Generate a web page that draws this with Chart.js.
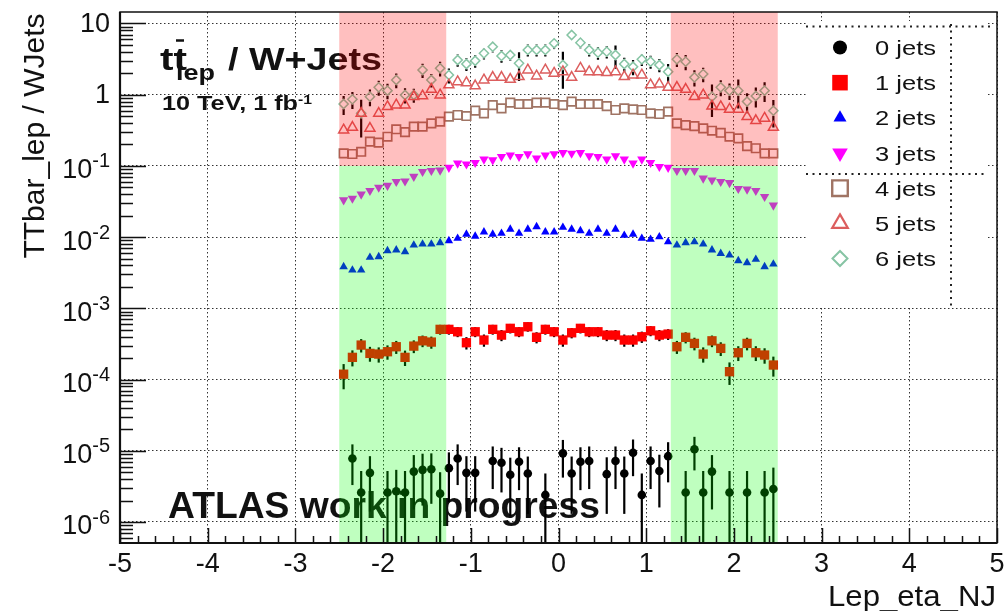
<!DOCTYPE html>
<html>
<head>
<meta charset="utf-8">
<title>TTbar_lep / WJets</title>
<script src="https://cdn.jsdelivr.net/npm/chart.js@4.4.0/dist/chart.umd.min.js"></script>
<style>
  html, body { margin: 0; padding: 0; background: #ffffff; }
  #wrap { width: 1007px; height: 611px; }
</style>
</head>
<body>
<div id="wrap"><canvas id="ratioChart" width="1007" height="611"></canvas></div>
<script>
// bin centres of Lep_eta (bin width 0.1)
const etaBins = [
  -2.45, -2.35, -2.25, -2.15, -2.05, -1.95, -1.85, -1.75, -1.65, -1.55,
  -1.45, -1.35, -1.25, -1.15, -1.05, -0.95, -0.85, -0.75, -0.65, -0.55,
  -0.45, -0.35, -0.25, -0.15, -0.05, 0.05, 0.15, 0.25, 0.35, 0.45,
  0.55, 0.65, 0.75, 0.85, 0.95, 1.05, 1.15, 1.25, 1.35, 1.45,
  1.55, 1.65, 1.75, 1.85, 1.95, 2.05, 2.15, 2.25, 2.35, 2.45
]

const seriesLabels = ["0 jets", "1 jets", "2 jets", "3 jets", "4 jets", "5 jets", "6 jets"]

const jets0 = [
  null, 7.8e-6, 2.6e-6, 4.9e-6, null, 2.6e-6, 2.7e-6, 2.6e-6, 5.1e-6, 5.4e-6,
  5.5e-6, 2.5e-6, 5.7e-6, 7.8e-6, 4.9e-6, 4.9e-6, null, 7.2e-6, 6.8e-6, 4.6e-6,
  7.0e-6, 4.8e-6, null, 2.4e-6, null, 9.2e-6, 4.8e-6, 7.0e-6, 7.2e-6, null,
  4.7e-6, 7.2e-6, 4.8e-6, 9.4e-6, 2.4e-6, 7.2e-6, 5.2e-6, 8.4e-6, null, 2.6e-6,
  1.05e-5, 2.6e-6, 5.1e-6, null, 2.6e-6, null, 2.6e-6, null, 2.6e-6, 2.9e-6
]
const err0 = [
  null, 4.5e-6, 2.6e-6, 3.5e-6, null, 2.6e-6, 2.7e-6, 2.6e-6, 3.6e-6, 3.7e-6,
  3.7e-6, 2.5e-6, 3.8e-6, 4.5e-6, 3.5e-6, 3.5e-6, null, 4.3e-6, 4.2e-6, 3.4e-6,
  4.2e-6, 3.5e-6, null, 2.4e-6, null, 5.0e-6, 3.5e-6, 4.2e-6, 4.3e-6, null,
  3.4e-6, 4.3e-6, 3.5e-6, 5.0e-6, 2.4e-6, 4.3e-6, 3.6e-6, 4.8e-6, null, 2.6e-6,
  5.2e-6, 2.6e-6, 3.6e-6, null, 2.6e-6, null, 2.6e-6, null, 2.6e-6, 2.9e-6
]

const jets1 = [
  1.19e-4, 2.05e-4, 3.05e-4, 2.33e-4, 2.28e-4, 2.46e-4, 2.89e-4, 2.05e-4, 2.95e-4, 3.5e-4,
  3.36e-4, 5.07e-4, 5.07e-4, 4.69e-4, 3.29e-4, 4.69e-4, 3.59e-4, 5.07e-4, 4.21e-4, 5.24e-4,
  4.69e-4, 5.52e-4, 3.92e-4, 5.07e-4, 4.69e-4, 3.59e-4, 4.54e-4, 5.24e-4, 4.69e-4, 4.69e-4,
  4.21e-4, 4.21e-4, 3.59e-4, 3.59e-4, 3.99e-4, 4.84e-4, 4.21e-4, 4.35e-4, 2.89e-4, 3.92e-4,
  3.22e-4, 2.28e-4, 3.5e-4, 2.74e-4, 1.29e-4, 2.38e-4, 3.22e-4, 2.38e-4, 2.21e-4, 1.6e-4
]
const err1 = [
  4.6e-5, 5.2e-5, 6.5e-5, 5.5e-5, 5.5e-5, 5.6e-5, 6.0e-5, 5.0e-5, 6.0e-5, 6.5e-5,
  6.5e-5, 8.0e-5, 8.0e-5, 7.5e-5, 6.5e-5, 7.5e-5, 7.0e-5, 8.0e-5, 7.5e-5, 8.0e-5,
  7.5e-5, 8.2e-5, 7.0e-5, 8.0e-5, 7.5e-5, 7.0e-5, 7.5e-5, 8.0e-5, 7.5e-5, 7.5e-5,
  7.5e-5, 7.5e-5, 7.0e-5, 7.0e-5, 7.2e-5, 7.8e-5, 7.5e-5, 7.5e-5, 6.0e-5, 7.0e-5,
  6.5e-5, 5.5e-5, 6.5e-5, 6.0e-5, 4.5e-5, 5.6e-5, 6.5e-5, 5.6e-5, 5.4e-5, 5.0e-5
]

const jets2 = [
  0.00384, 0.00345, 0.00345, 0.0052, 0.0053, 0.00644, 0.0066, 0.00624, 0.00774, 0.008,
  0.008, 0.00834, 0.0089, 0.0096, 0.011, 0.0103, 0.0118, 0.011, 0.0113, 0.0129,
  0.0113, 0.0129, 0.014, 0.0118, 0.0118, 0.0137, 0.0129, 0.0123, 0.0113, 0.0129,
  0.0113, 0.0129, 0.0106, 0.011, 0.0096, 0.0093, 0.0101, 0.0086, 0.00774, 0.00834,
  0.0086, 0.008, 0.0066, 0.0059, 0.0056, 0.00467, 0.00437, 0.00488, 0.00384, 0.00419
]

const jets3 = [
  0.0332, 0.035, 0.040, 0.045, 0.050, 0.053, 0.060, 0.061, 0.071, 0.083,
  0.086, 0.087, 0.095, 0.109, 0.106, 0.111, 0.124, 0.121, 0.135, 0.142,
  0.135, 0.147, 0.128, 0.142, 0.147, 0.153, 0.150, 0.153, 0.138, 0.135,
  0.124, 0.138, 0.124, 0.109, 0.124, 0.111, 0.0975, 0.095, 0.086, 0.086,
  0.086, 0.067, 0.063, 0.060, 0.058, 0.048, 0.047, 0.045, 0.037, 0.028
]

const jets4 = [
  0.150, 0.147, 0.158, 0.219, 0.212, 0.257, 0.327, 0.299, 0.356, 0.356,
  0.396, 0.418, 0.491, 0.519, 0.502, 0.596, 0.548, 0.716, 0.644, 0.773,
  0.74, 0.74, 0.773, 0.773, 0.74, 0.716, 0.798, 0.74, 0.74, 0.74,
  0.693, 0.61, 0.644, 0.624, 0.61, 0.548, 0.536, 0.577, 0.396, 0.375,
  0.363, 0.337, 0.312, 0.292, 0.257, 0.244, 0.190, 0.177, 0.150, 0.150
]

const jets5 = [
  0.319, 0.348, 0.548, 0.337, 0.548, 0.679, 0.716, 0.716, 0.938, 0.96,
  1.19, 0.99, 1.37, 1.52, 1.47, 1.33, 1.61, 1.75, 1.75, 1.64,
  1.79, 2.22, 1.83, 2.22, 2.0, 2.1, 1.75, 2.35, 2.1, 2.1,
  2.04, 2.1, 1.79, 1.89, 1.89, 1.37, 1.41, 1.27, 1.27, 1.19,
  0.938, 0.99, 0.693, 0.679, 0.624, 0.624, 0.491, 0.432, 0.467, 0.348
]

const jets6 = [
  0.74, 0.861, 0.55, 0.938, 1.27, 1.14, 1.61, 0.99, 0.99, 2.22,
  1.61, 2.35, 1.89, 3.07, 2.7, 3.0, 3.81, 4.72, 3.5, 3.61,
  2.76, 4.25, 4.25, 4.25, 5.27, 2.61, 6.89, 5.38, 4.25, 3.89,
  4.02, 3.61, 2.7, 2.47, 3.14, 2.91, 2.61, 2.1, 3.14, 2.91,
  1.75, 1.95, 0.938, 1.27, 1.14, 1.14, 0.80, 0.96, 1.14, 0.596
]
const err6 = [
  0.22, 0.23, 0.3, 0.25, 0.3, 0.28, 0.38, 0.24, 0.22, 0.5,
  0.35, 0.55, 0.45, 0.6, 0.55, 0.6, 0.7, 0.8, 0.7, 0.6,
  1.2, 0.8, 0.8, 0.8, 0.9, 1.4, 1.0, 0.9, 0.8, 0.8,
  0.8, 1.3, 0.6, 0.6, 0.6, 0.6, 0.55, 0.6, 0.7, 0.7,
  0.45, 0.45, 0.45, 0.32, 0.3, 0.5, 0.25, 0.3, 0.35, 0.25
]

const xTickValues = [-5, -4, -3, -2, -1, 0, 1, 2, 3, 4, 5]
const yTickValues = [1e-6, 1e-5, 1e-4, 1e-3, 1e-2, 1e-1, 1, 10]

// eta regions that are shaded (red above 0.1, green below)
const bandRanges = [[-2.5, -1.28], [1.28, 2.5]]
const bandSplit = 0.1

const FONT = "'Liberation Sans', Arial, Helvetica, sans-serif"

// marker styles; the legend draws them about twice as big, like ROOT did here
const seriesStyles = [
  { pointStyle: "circle", radius: 4.3, rotation: 0, fill: "#000000", stroke: "#000000", width: 0, legendRadius: 7, legendWidth: 0 },
  { pointStyle: "rect", radius: 6.6, rotation: 0, fill: "#ff0000", stroke: "#ff0000", width: 0, legendRadius: 11, legendWidth: 0 },
  { pointStyle: "triangle", radius: 4.9, rotation: 0, fill: "#0000ff", stroke: "#0000ff", width: 0, legendRadius: 7.5, legendWidth: 0 },
  { pointStyle: "triangle", radius: 5.4, rotation: 180, fill: "#ff00ff", stroke: "#ff00ff", width: 0, legendRadius: 9, legendWidth: 0 },
  { pointStyle: "rect", radius: 6.0, rotation: 0, fill: "rgba(0,0,0,0)", stroke: "#a07464", width: 1.7, legendRadius: 11, legendWidth: 2.4 },
  { pointStyle: "triangle", radius: 5.8, rotation: 0, fill: "rgba(0,0,0,0)", stroke: "#dc5e5e", width: 1.5, legendRadius: 9, legendWidth: 2.2 },
  { pointStyle: "rectRot", radius: 4.6, rotation: 0, fill: "rgba(0,0,0,0)", stroke: "#86c4a4", width: 1.5, legendRadius: 7.5, legendWidth: 2 },
]

const seriesValues = [jets0, jets1, jets2, jets3, jets4, jets5, jets6]
const seriesErrors = [err0, err1, null, null, null, null, err6]
const errorGaps = [0, 0, 0, 0, 0, 0, 5]

const datasets = seriesValues.map((vals, k) => {
  const st = seriesStyles[k]
  return {
    label: seriesLabels[k],
    data: etaBins.map((x, i) => ({ x: x, y: vals[i] })).filter((p) => p.y !== null),
    showLine: false,
    pointStyle: st.pointStyle,
    pointRadius: st.radius,
    pointRotation: st.rotation,
    backgroundColor: st.fill,
    borderColor: st.stroke,
    borderWidth: st.width,
  }
})

// text drawn with a horizontal stretch so it fills the given width
function stretchText(ctx, text, x, y, font, width) {
  ctx.save()
  ctx.font = font
  const w = ctx.measureText(text).width
  ctx.translate(x, y)
  ctx.scale(width / w, 1)
  ctx.textAlign = "left"
  ctx.textBaseline = "alphabetic"
  ctx.fillText(text, 0, 0)
  ctx.restore()
}

function drawTitles(ctx) {
  ctx.save()
  ctx.fillStyle = "#111111"
  stretchText(ctx, "tt", 160, 70, "bold 31px " + FONT, 27)
  ctx.strokeStyle = "#111111"
  ctx.lineWidth = 2.5
  ctx.beginPath()
  ctx.moveTo(176, 40.5)
  ctx.lineTo(184, 40.5)
  ctx.stroke()
  stretchText(ctx, "lep", 176, 80, "bold 22px " + FONT, 39)
  stretchText(ctx, "/ W+Jets", 228, 70, "bold 31px " + FONT, 154)
  stretchText(ctx, "10 TeV, 1 fb", 162, 110, "bold 21px " + FONT, 136)
  stretchText(ctx, "-1", 298, 103.5, "bold 12px " + FONT, 14)
  stretchText(ctx, "ATLAS work in progress", 168, 518, "bold 37px " + FONT, 432)
  ctx.restore()
}

function drawErrorBars(chart) {
  const ctx = chart.ctx
  const area = chart.chartArea
  const xs = chart.scales.x
  const ys = chart.scales.y
  ctx.save()
  ctx.beginPath()
  ctx.rect(area.left, area.top, area.right - area.left, area.bottom - area.top)
  ctx.clip()
  ctx.strokeStyle = "#000000"
  ctx.lineWidth = 2.2
  seriesValues.forEach((vals, k) => {
    const errs = seriesErrors[k]
    if (!errs) return
    const gap = errorGaps[k]
    vals.forEach((v, i) => {
      if (v === null || errs[i] === null) return
      const px = xs.getPixelForValue(etaBins[i])
      const pc = ys.getPixelForValue(v)
      const hi = ys.getPixelForValue(v + errs[i])
      const lo = v - errs[i] > 0 ? ys.getPixelForValue(v - errs[i]) : area.bottom
      ctx.beginPath()
      if (gap > 0) {
        ctx.moveTo(px, hi)
        ctx.lineTo(px, Math.max(hi, pc - gap))
        ctx.moveTo(px, Math.min(lo, pc + gap))
        ctx.lineTo(px, lo)
      } else {
        ctx.moveTo(px, hi)
        ctx.lineTo(px, lo)
      }
      ctx.stroke()
    })
  })
  ctx.restore()
}

function drawBands(chart) {
  const ctx = chart.ctx
  const area = chart.chartArea
  const xs = chart.scales.x
  const ys = chart.scales.y
  const ySplit = ys.getPixelForValue(bandSplit)
  ctx.save()
  bandRanges.forEach(([a, b]) => {
    const x0 = xs.getPixelForValue(a)
    const x1 = xs.getPixelForValue(b)
    ctx.fillStyle = "rgba(255, 0, 0, 0.25)"
    ctx.fillRect(x0, area.top, x1 - x0, ySplit - area.top)
    ctx.fillStyle = "rgba(0, 255, 0, 0.25)"
    ctx.fillRect(x0, ySplit, x1 - x0, area.bottom - ySplit)
  })
  ctx.restore()
}

function drawMarker(ctx, st, x, y) {
  ctx.save()
  ctx.fillStyle = st.fill
  ctx.strokeStyle = st.stroke
  ctx.lineWidth = st.legendWidth
  if (Chart.helpers && Chart.helpers.drawPoint) {
    Chart.helpers.drawPoint(ctx, {
      pointStyle: st.pointStyle,
      rotation: st.rotation,
      radius: st.legendRadius,
      borderWidth: st.legendWidth,
    }, x, y)
  } else {
    ctx.beginPath()
    ctx.arc(x, y, st.legendRadius, 0, Math.PI * 2)
    ctx.fill()
  }
  ctx.restore()
}

function drawLegendBox(chart) {
  const ctx = chart.ctx
  ctx.save()
  ctx.fillStyle = "#ffffff"
  ctx.fillRect(806, 21, 182, 286)

  ctx.strokeStyle = "#222222"
  ctx.lineWidth = 2
  ctx.setLineDash([2, 4.5])
  ctx.beginPath()
  ctx.moveTo(806, 26.5)
  ctx.lineTo(990, 26.5)
  ctx.moveTo(806, 174)
  ctx.lineTo(988, 174)
  ctx.moveTo(951, 24)
  ctx.lineTo(951, 307)
  ctx.stroke()
  ctx.setLineDash([])

  seriesLabels.forEach((label, k) => {
    const cy = 47.5 + k * 35.17
    drawMarker(ctx, seriesStyles[k], 840, cy)
    ctx.fillStyle = "#111111"
    stretchText(ctx, label, 875, cy + 7.5, "21px " + FONT, 61)
  })
  ctx.restore()
}

function drawFrame(chart) {
  const ctx = chart.ctx
  const area = chart.chartArea
  const xs = chart.scales.x
  const ys = chart.scales.y
  ctx.save()
  ctx.strokeStyle = "#111111"

  // y ticks on the left edge, pointing inwards
  ctx.lineWidth = 1.5
  ctx.beginPath()
  for (let e = -7; e <= 1; e++) {
    for (let m = 1; m <= 9; m++) {
      const v = m * Math.pow(10, e)
      if (v < ys.min || v > ys.max) continue
      const py = Math.round(ys.getPixelForValue(v)) + 0.5
      const len = m === 1 ? 26 : 13
      ctx.moveTo(area.left, py)
      ctx.lineTo(area.left + len, py)
    }
  }
  // x ticks on the bottom edge, pointing inwards
  for (let t = -50; t <= 50; t += 2) {
    const px = Math.round(xs.getPixelForValue(t / 10)) + 0.5
    const len = t % 10 === 0 ? 15 : 7
    ctx.moveTo(px, area.bottom)
    ctx.lineTo(px, area.bottom - len)
  }
  ctx.stroke()

  // frame
  ctx.lineWidth = 1.5
  ctx.strokeRect(area.left, area.top, area.right - area.left, area.bottom - area.top)
  ctx.lineWidth = 2.2
  ctx.beginPath()
  ctx.moveTo(area.left, area.top)
  ctx.lineTo(area.left, area.bottom)
  ctx.lineTo(area.right, area.bottom)
  ctx.stroke()
  ctx.restore()
}

function drawAxisLabels(chart) {
  const ctx = chart.ctx
  const xs = chart.scales.x
  const ys = chart.scales.y
  ctx.save()
  ctx.fillStyle = "#111111"

  // y tick labels: 10^n with a raised exponent
  ctx.textAlign = "right"
  ctx.textBaseline = "middle"
  yTickValues.forEach((v) => {
    const py = ys.getPixelForValue(v)
    const e = Math.round(Math.log10(v))
    if (e === 0 || e === 1) {
      ctx.font = "27px " + FONT
      ctx.fillText(e === 0 ? "1" : "10", 110, py + 1)
    } else {
      const sup = String(e)
      ctx.font = "20px " + FONT
      const sw = ctx.measureText(sup).width
      ctx.fillText(sup, 110, py - 4)
      ctx.font = "27px " + FONT
      ctx.fillText("10", 110 - sw, py + 5)
    }
  })

  // x tick labels
  ctx.textAlign = "center"
  ctx.font = "27px " + FONT
  xTickValues.forEach((v) => {
    ctx.fillText(String(v), xs.getPixelForValue(v), 565)
  })

  // axis titles
  stretchText(ctx, "Lep_eta_NJ", 828, 606, "29px " + FONT, 168)

  ctx.translate(44, 136)
  ctx.rotate(-Math.PI / 2)
  ctx.textAlign = "center"
  ctx.textBaseline = "alphabetic"
  ctx.font = "30px " + FONT
  ctx.fillText("TTbar_lep / WJets", 0, 0)
  ctx.restore()
}

const rootDecor = {
  id: "rootDecor",
  beforeDatasetsDraw(chart) {
    drawTitles(chart.ctx)
    drawErrorBars(chart)
  },
  afterDatasetsDraw(chart) {
    drawBands(chart)
    drawLegendBox(chart)
    drawFrame(chart)
    drawAxisLabels(chart)
  },
}

document.addEventListener("DOMContentLoaded", () => {
  Chart.defaults.font.family = FONT
  const chartEl = document.getElementById("ratioChart")
  new Chart(chartEl, {
    type: "scatter",
    data: { datasets: datasets },
    options: {
      responsive: false,
      animation: false,
      devicePixelRatio: 1,
      layout: { padding: { left: 120, right: 10, top: 12, bottom: 68 } },
      plugins: {
        legend: { display: false },
        tooltip: { enabled: false },
      },
      scales: {
        x: {
          type: "linear",
          min: -5,
          max: 5,
          afterBuildTicks: (scale) => {
            scale.ticks = xTickValues.map((v) => ({ value: v }))
          },
          ticks: { display: false },
          grid: { color: "#333333", lineWidth: 1, drawTicks: false },
          border: { display: false, dash: [1.5, 2.5] },
        },
        y: {
          type: "logarithmic",
          min: 5.07e-7,
          max: 14.5,
          afterBuildTicks: (scale) => {
            scale.ticks = yTickValues.map((v) => ({ value: v }))
          },
          ticks: { display: false },
          grid: { color: "#333333", lineWidth: 1, drawTicks: false },
          border: { display: false, dash: [1.5, 2.5] },
        },
      },
    },
    plugins: [rootDecor],
  })
})
</script>
</body>
</html>
